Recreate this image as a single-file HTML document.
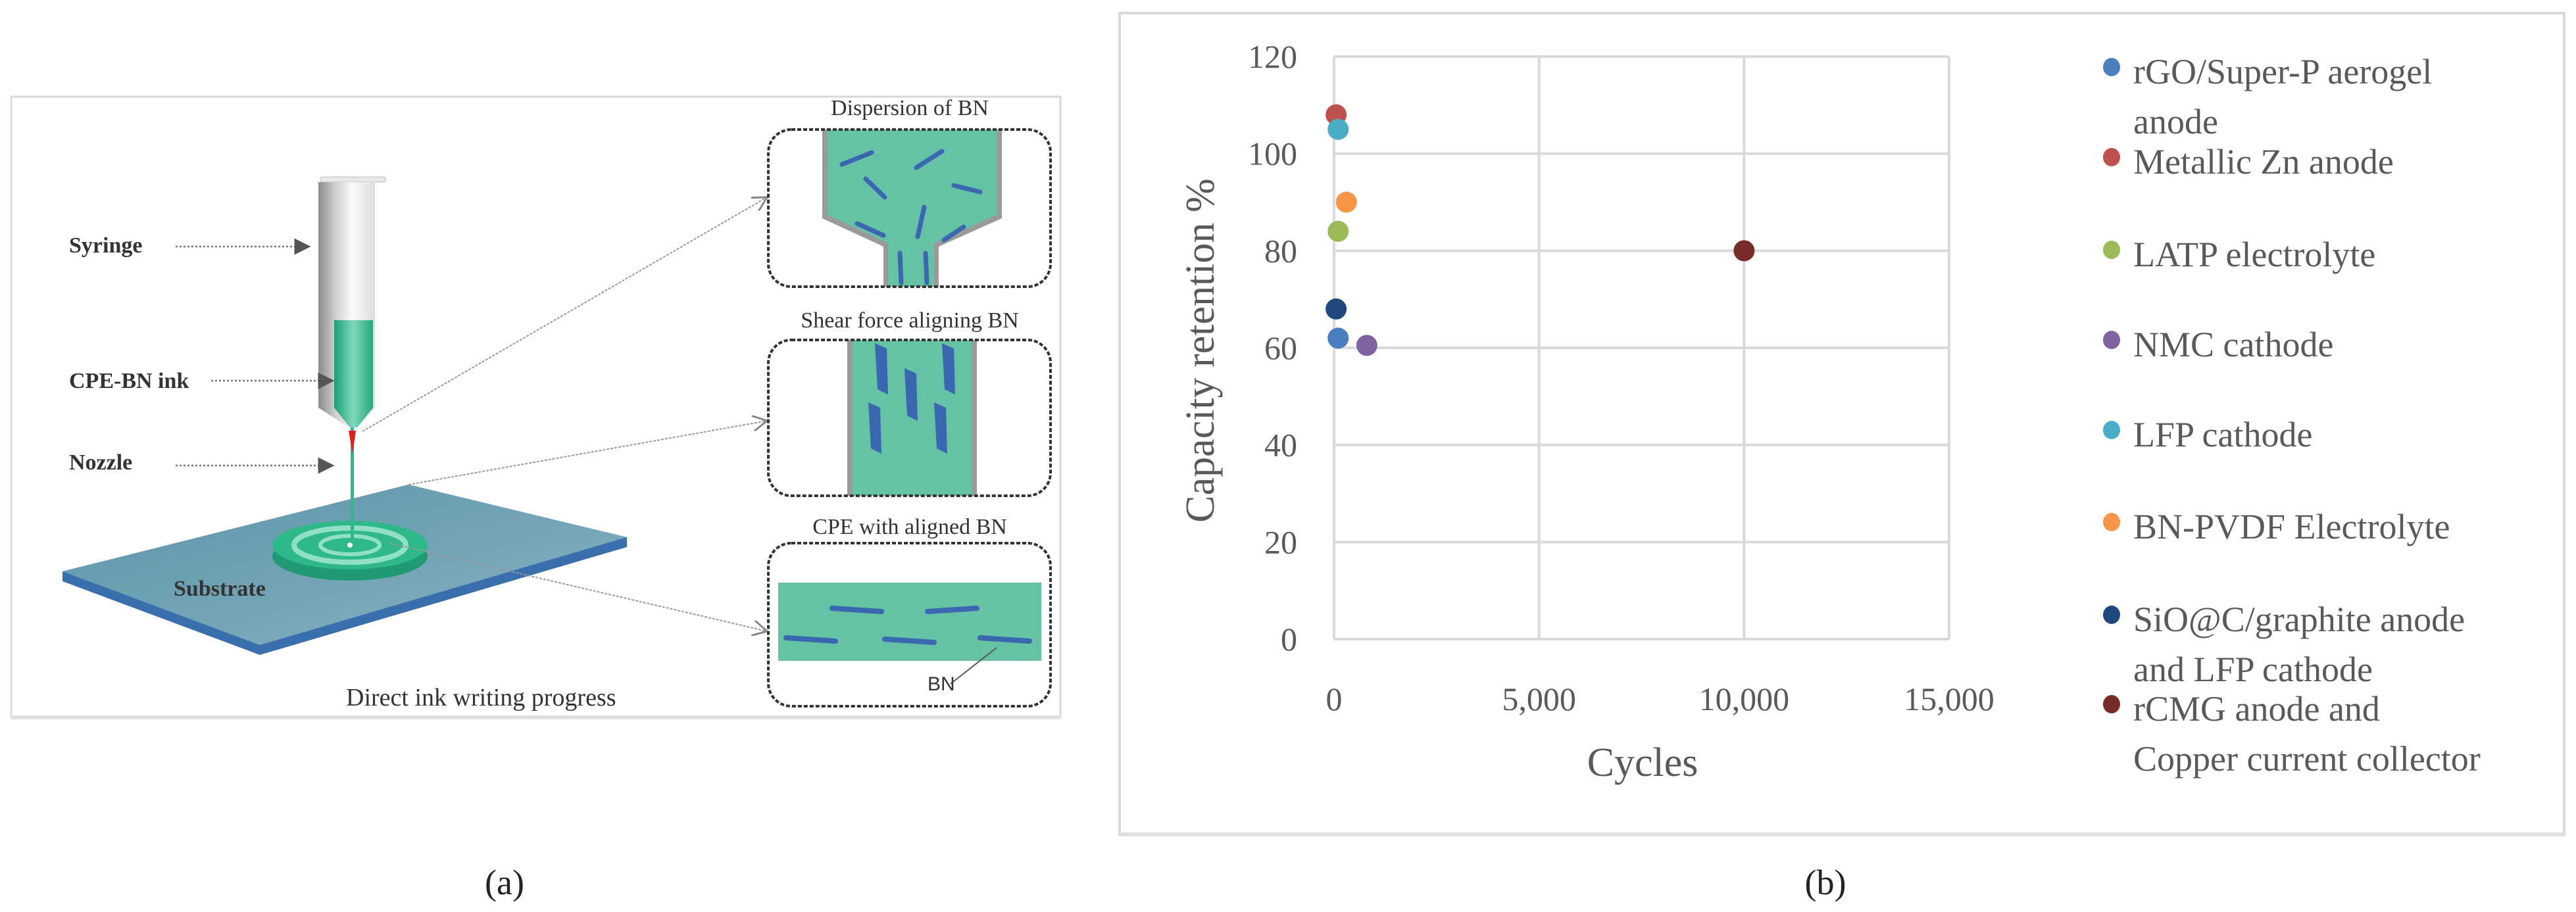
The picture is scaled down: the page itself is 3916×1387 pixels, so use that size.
<!DOCTYPE html>
<html><head><meta charset="utf-8"><style>
html,body{margin:0;padding:0;background:#fff}
svg{display:block}
text{font-family:"Liberation Serif",serif}
</style></head><body>
<svg width="3916" height="1387" viewBox="0 0 3916 1387" xmlns="http://www.w3.org/2000/svg">
<defs>
<linearGradient id="barrel" x1="0" x2="1"><stop offset="0" stop-color="#8a8a8a"/><stop offset="0.3" stop-color="#cfcfcf"/><stop offset="0.6" stop-color="#fafafa"/><stop offset="1" stop-color="#dcdcdc"/></linearGradient>
<linearGradient id="ink" x1="0" x2="1"><stop offset="0" stop-color="#1c9e78"/><stop offset="0.5" stop-color="#7fd9b8"/><stop offset="1" stop-color="#22a67e"/></linearGradient>
<linearGradient id="sub" x1="0" x2="1" y1="0" y2="1"><stop offset="0" stop-color="#5d93a8"/><stop offset="1" stop-color="#86b3c3"/></linearGradient>
<marker id="ah" markerWidth="10" markerHeight="10" refX="9" refY="5" orient="auto"><path d="M0,0L10,5L0,10z" fill="#555"/></marker>
<marker id="oh" markerWidth="12" markerHeight="12" refX="11" refY="6" orient="auto"><path d="M0,0L11,6L0,12" fill="none" stroke="#888" stroke-width="1.5"/></marker>
</defs>

<g>
<rect x="17" y="147" width="1595" height="943" fill="#fff" stroke="#d9d9d9" stroke-width="3"/>
<rect x="17" y="1088" width="1595" height="6" fill="#e0e0e0"/>
<g>
<polygon points="95,869 621,737 953,817 953,832 395,996 95,884" fill="#3a6fae"/>
<polygon points="95,869 621,737 953,817 395,981" fill="url(#sub)"/>
</g>
<g>
<ellipse cx="532" cy="846" rx="118" ry="37" fill="#1f9a75"/>
<ellipse cx="532" cy="829" rx="118" ry="37" fill="#2fb889"/>
<ellipse cx="532" cy="829" rx="85" ry="26" fill="none" stroke="#8fe0c4" stroke-width="8"/>
<ellipse cx="532" cy="829" rx="45" ry="14" fill="none" stroke="#8fe0c4" stroke-width="6"/>
<circle cx="532" cy="829" r="4" fill="#fff"/>
</g>
<g>
<rect x="487" y="269" width="99" height="8" rx="3" fill="#e8e8e8" stroke="#bbb" stroke-width="1"/>
<path d="M484,277 L570,277 L570,620 L545,650 L530,650 L484,620 Z" fill="url(#barrel)"/>
<path d="M508,487 L567,487 L567,620 L543,650 L532,650 L508,620 Z" fill="url(#ink)"/>
<rect x="533" y="650" width="5" height="176" fill="#2fb889"/>
<polygon points="530,655 541,655 536,690" fill="#e02020"/>
</g>
<g stroke="#777" stroke-width="2.5" stroke-dasharray="3,3" marker-end="url(#ah)">
<line x1="267" y1="375" x2="470" y2="375"/>
<line x1="321" y1="579" x2="506" y2="579"/>
<line x1="267" y1="708" x2="506" y2="708"/>
</g>
<g stroke="#999" stroke-width="2" stroke-dasharray="4,2" fill="none" marker-end="url(#oh)">
<line x1="551" y1="656" x2="1166" y2="300"/>
<line x1="621" y1="737" x2="1166" y2="640"/>
<line x1="592" y1="826" x2="1166" y2="960"/>
</g>
<g font-weight="bold" fill="#333" font-size="34" style="font-family:'Liberation Serif',serif">
<text x="105" y="384">Syringe</text>
<text x="105" y="590">CPE-BN ink</text>
<text x="105" y="714">Nozzle</text>
<text x="264" y="906">Substrate</text>
</g>
<text x="526" y="1073" font-size="38" fill="#333">Direct ink writing progress</text>
<g style="font-family:'Liberation Sans',sans-serif" font-size="34" fill="#333" text-anchor="middle">
<text x="1383" y="175">Dispersion of BN</text>
<text x="1383" y="498">Shear force aligning BN</text>
<text x="1383" y="812">CPE with aligned BN</text>
</g>
<g>
<polygon points="1250,197 1523,197 1523,332 1427,375 1427,436 1343,436 1343,375 1250,332" fill="#9a9a9a"/>
<polygon points="1258,197 1515,197 1515,327 1420,370 1420,436 1350,436 1350,370 1258,327" fill="#66c2a5"/>
<g stroke="#3b66b0" stroke-width="7" stroke-linecap="round">
<line x1="1280" y1="250" x2="1325" y2="232"/><line x1="1393" y1="255" x2="1432" y2="230"/>
<line x1="1316" y1="272" x2="1345" y2="300"/><line x1="1450" y1="282" x2="1490" y2="292"/>
<line x1="1303" y1="340" x2="1343" y2="358"/><line x1="1395" y1="360" x2="1405" y2="315"/>
<line x1="1435" y1="365" x2="1465" y2="345"/><line x1="1368" y1="385" x2="1370" y2="430"/><line x1="1407" y1="385" x2="1409" y2="430"/>
</g>
<rect x="1168" y="197" width="429" height="239" rx="35" fill="none" stroke="#333" stroke-width="4" stroke-dasharray="6,3"/>
</g>
<g>
<rect x="1288" y="517" width="197" height="237" fill="#9a9a9a"/>
<rect x="1296" y="517" width="181" height="237" fill="#66c2a5"/>
<g fill="#3b66b0">
<polygon points="1330,522 1348,530 1350,600 1334,592"/><polygon points="1432,522 1450,530 1452,600 1436,592"/>
<polygon points="1375,560 1393,568 1395,640 1379,632"/><polygon points="1320,612 1338,620 1340,690 1324,682"/>
<polygon points="1420,612 1438,620 1440,690 1424,682"/>
</g>
<rect x="1168" y="517" width="429" height="237" rx="35" fill="none" stroke="#333" stroke-width="4" stroke-dasharray="6,3"/>
</g>
<g>
<rect x="1183" y="886" width="400" height="119" fill="#66c2a5"/>
<g stroke="#3b66b0" stroke-width="8" stroke-linecap="round">
<line x1="1265" y1="925" x2="1340" y2="930"/><line x1="1410" y1="930" x2="1485" y2="925"/>
<line x1="1195" y1="970" x2="1270" y2="975"/><line x1="1345" y1="972" x2="1420" y2="977"/><line x1="1490" y1="970" x2="1565" y2="975"/>
</g>
<line x1="1445" y1="1040" x2="1515" y2="985" stroke="#555" stroke-width="2"/>
<text x="1410" y="1050" style="font-family:'Liberation Sans',sans-serif" font-size="30" fill="#333">BN</text>
<rect x="1168" y="826" width="429" height="248" rx="35" fill="none" stroke="#333" stroke-width="4" stroke-dasharray="6,3"/>
</g>
</g>
<text x="767" y="1360" font-size="54" text-anchor="middle" fill="#222">(a)</text>

<g>
<rect x="1702" y="20" width="2196" height="1250" fill="#fff" stroke="#d9d9d9" stroke-width="4"/>
<rect x="1702" y="1266" width="2196" height="6" fill="#e0e0e0"/>
<g id="chart"></g>
</g>
<text x="2775" y="1360" font-size="54" text-anchor="middle" fill="#222">(b)</text>
</svg>
<script>
const seriesNames=["rGO/Super-P aerogel anode","Metallic Zn anode","LATP electrolyte","NMC cathode","LFP cathode","BN-PVDF Electrolyte","SiO@C/graphite anode and LFP cathode","rCMG anode and Copper current collector"];
const cyclesValues=[100,50,100,800,100,300,50,10000];
const retentionValues=[62,108,84,60.5,105,90,68,80];
const colors=["#4a7ebf","#c0504d","#9bbb59","#8064a2","#4bacc6","#f79646","#1f497d","#772c2a"];
const xTicks=[0,5000,10000,15000];
const xTickLabels=["0","5,000","10,000","15,000"];
const yTicks=[0,20,40,60,80,100,120];
const legendLines=[["rGO/Super-P aerogel","anode"],["Metallic Zn anode"],["LATP electrolyte"],["NMC cathode"],["LFP cathode"],["BN-PVDF Electrolyte"],["SiO@C/graphite anode","and LFP cathode"],["rCMG anode and","Copper current collector"]];
const legendY=[115,252,393,530,667,807,948,1084];

const NS="http://www.w3.org/2000/svg";
const g=document.getElementById('chart');
const X0=2028,X1=2963,Y0=972,Y1=86;
const xs=v=>X0+(v-0)/(15000)*(X1-X0);
const ys=v=>Y0-(v/120)*(Y0-Y1);
function mk(t,a,p){const e=document.createElementNS(NS,t);for(const k in a)e.setAttribute(k,a[k]);(p||g).appendChild(e);return e;}
yTicks.forEach(v=>{
  const l=mk('line',{x1:X0,x2:X1,y1:ys(v),y2:ys(v),stroke:'#d9d9d9','stroke-width':4});
  
  
  const t=mk('text',{x:1972,y:ys(v)+17,'text-anchor':'end','font-size':50,fill:'#595959'});
  t.textContent=String(v);
  
  
});
xTicks.forEach((v,i)=>{
  const l=mk('line',{x1:xs(v),x2:xs(v),y1:Y1,y2:Y0,stroke:'#d9d9d9','stroke-width':4});
  
  
  const t=mk('text',{x:xs(v),y:1080,'text-anchor':'middle','font-size':50,fill:'#595959'});
  t.textContent=xTickLabels[i];
  
  
});
const xt=mk('text',{x:2497,y:1180,'text-anchor':'middle','font-size':62,fill:'#595959'});
xt.textContent='Cycles';


const yt=mk('text',{x:0,y:0,'text-anchor':'middle','font-size':62,fill:'#595959',transform:'translate(1845,533) rotate(-90)'});
yt.textContent='Capacity retention %';


cyclesValues.forEach((c,i)=>{
  const d=mk('ellipse',{cx:xs(c),cy:ys(retentionValues[i]),rx:16,ry:16,fill:colors[i]});
  
  
});
seriesNames.forEach((n,i)=>{
  const m=mk('ellipse',{cx:3210,cy:legendY[i]-13,rx:13,ry:14,fill:colors[i]});
  
  
  legendLines[i].forEach((ln,j)=>{
    const t=mk('text',{x:3243,y:legendY[i]+12+j*76,'font-size':54,fill:'#595959'});
    t.textContent=ln;
    
    
  });
});
</script>
</body></html>
